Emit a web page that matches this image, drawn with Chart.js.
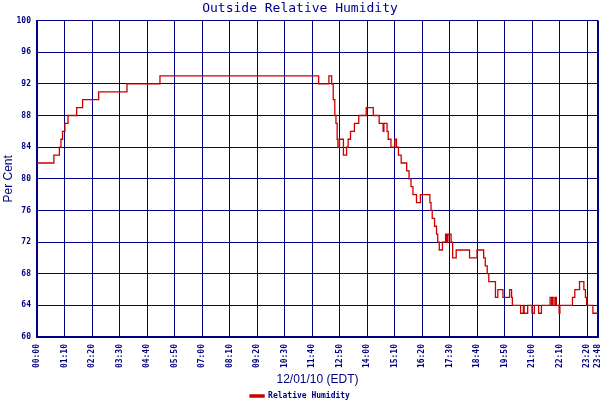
<!DOCTYPE html>
<html>
<head>
<meta charset="utf-8">
<script src="https://cdn.jsdelivr.net/npm/chart.js@4"></script>
<style>
  body { margin: 0; background: #fff; }
  #wrap { width: 600px; height: 400px; }
</style>
</head>
<body>
<div id="wrap"><canvas id="humChart" width="600" height="400"></canvas></div>
<script>
// readings: time the value starts, relative humidity (%)
const sampleTimes = [
  '00:00', '00:43', '00:57', '01:01', '01:05', '01:11', '01:19', '01:41', '01:56', '02:37',
  '03:49', '05:13', '11:57', '12:23', '12:30', '12:34', '12:38', '12:41', '12:44', '12:46',
  '12:50', '13:00', '13:08', '13:12', '13:18', '13:28', '13:39', '13:58', '14:16', '14:31',
  '14:41', '14:43', '14:51', '14:54', '15:01', '15:11', '15:15', '15:20', '15:27', '15:41',
  '15:47', '15:52', '15:57', '16:06', '16:16', '16:40', '16:43', '16:46', '16:52', '16:57',
  '17:00', '17:04', '17:12', '17:20', '17:23', '17:26', '17:34', '17:38', '17:47', '18:21',
  '18:40', '18:57', '19:01', '19:06', '19:10', '19:27', '19:33', '19:46', '20:03', '20:08',
  '20:10', '20:31', '20:38', '20:40', '20:49', '21:00', '21:06', '21:17', '21:24', '21:46',
  '21:50', '21:52', '21:56', '22:00', '22:02', '22:09', '22:11', '22:43', '22:49', '23:01',
  '23:12', '23:16', '23:19', '23:35', '23:48'
];
const humidity = [
  82, 83, 84, 85, 86, 87, 88, 89, 90, 91,
  92, 93, 92, 93, 92, 90, 88, 87, 85, 84,
  85, 83, 84, 85, 86, 87, 88, 89, 88, 87,
  86, 87, 86, 85, 84, 85, 84, 83, 82, 81,
  80, 79, 78, 77, 78, 77, 76, 75, 74, 73,
  72, 71, 72, 73, 72, 73, 72, 70, 71, 70,
  71, 70, 69, 68, 67, 65, 66, 65, 66, 65,
  64, 63, 64, 63, 64, 63, 64, 63, 64, 65,
  64, 65, 64, 65, 64, 63, 64, 65, 66, 67,
  66, 65, 64, 63, 63
];
const tickLabels = [
  '00:00', '01:10', '02:20', '03:30', '04:40', '05:50', '07:00', '08:10', '09:20', '10:30', '11:40',
  '12:50', '14:00', '15:10', '16:20', '17:30', '18:40', '19:50', '21:00', '22:10', '23:20', '23:48'
];

const NAVY = '#000080';

function toMin(t) {
  const p = t.split(':');
  return (+p[0]) * 60 + (+p[1]);
}

const points = sampleTimes.map((t, i) => ({ x: toMin(t), y: humidity[i] }));
const tickMins = tickLabels.map(toMin);

const ctx = document.getElementById('humChart').getContext('2d');
new Chart(ctx, {
  type: 'line',
  data: {
    datasets: [
      {
        label: 'Relative Humidity',
        data: points,
        borderColor: '#cc0000',
        backgroundColor: '#cc0000',
        borderWidth: 1.3,
        pointRadius: 0,
        stepped: true,
        fill: false,
      },
    ],
  },
  options: {
    responsive: false,
    animation: false,
    devicePixelRatio: 1,
    layout: { padding: { top: 0, left: 0, right: 0, bottom: -10 } },
    plugins: {
      title: {
        display: true,
        text: 'Outside Relative Humidity',
        color: '#00008b',
        font: { family: 'DejaVu Sans Mono', size: 13, weight: 'normal' },
        padding: { top: 1, bottom: 4 },
      },
      legend: {
        position: 'bottom',
        labels: {
          color: NAVY,
          font: { family: 'DejaVu Sans Mono', size: 8, weight: 'bold' },
          boxWidth: 14,
          boxHeight: 2,
          padding: 1,
        },
      },
      tooltip: { enabled: false },
    },
    scales: {
      x: {
        type: 'linear',
        min: 0,
        max: 1428,
        afterBuildTicks: (scale) => {
          scale.ticks = tickMins.map((v) => ({ value: v }));
        },
        afterFit: (scale) => {
          scale.height = 54;
          scale.paddingLeft = 0;
          scale.paddingRight = 2;
        },
        ticks: {
          autoSkip: false,
          minRotation: 90,
          maxRotation: 90,
          padding: 7,
          color: NAVY,
          font: { family: 'DejaVu Sans Mono', size: 8, weight: 'bold' },
          callback: (v, i) => tickLabels[i],
        },
        grid: {
          color: NAVY,
          lineWidth: (c) => (c.index === tickLabels.length - 1 ? 2 : 1),
          drawTicks: false,
        },
        border: { color: NAVY, width: 2 },
        title: {
          display: true,
          text: '12/01/10 (EDT)',
          color: NAVY,
          font: { family: 'Liberation Sans', size: 12 },
          padding: { top: 0, bottom: 4 },
        },
      },
      y: {
        min: 60,
        max: 100,
        afterFit: (scale) => {
          scale.width = 37;
        },
        ticks: {
          stepSize: 4,
          padding: 6,
          color: NAVY,
          font: { family: 'DejaVu Sans Mono', size: 8, weight: 'bold' },
        },
        grid: { color: NAVY, lineWidth: 1, drawTicks: false },
        border: { color: NAVY, width: 2 },
        title: {
          display: true,
          text: 'Per Cent',
          color: NAVY,
          font: { family: 'Liberation Sans', size: 12 },
          padding: { top: 1, bottom: 0 },
        },
      },
    },
  },
});
</script>
</body>
</html>
